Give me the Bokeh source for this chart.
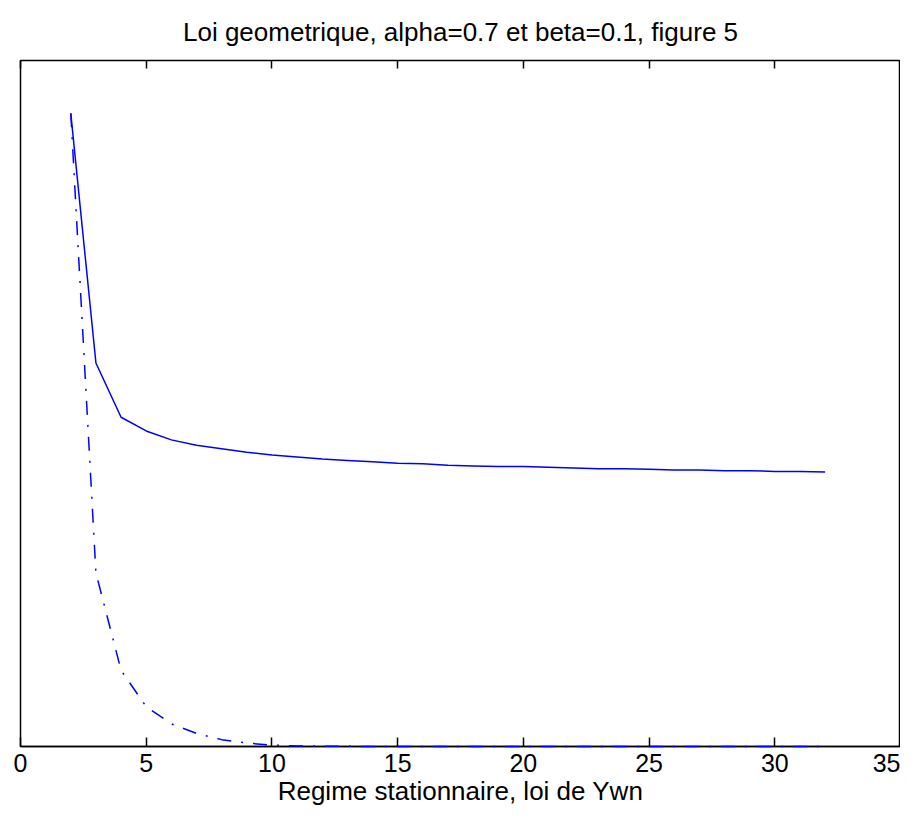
from bokeh.plotting import figure
from bokeh.models import Range1d, FixedTicker, LinearAxis, ColumnDataSource
from bokeh.embed import file_html
from bokeh.resources import INLINE

# ---- data (y axis has no labels, values normalised) ----
n_values = list(range(2, 33))
solid_y = [0.923, 0.559, 0.480, 0.460, 0.447, 0.439, 0.434, 0.429, 0.425, 0.422,
           0.419, 0.417, 0.415, 0.413, 0.412, 0.410, 0.409, 0.408, 0.408, 0.407,
           0.406, 0.405, 0.405, 0.404, 0.403, 0.403, 0.402, 0.402, 0.401, 0.401,
           0.400]
dashdot_y = [0.923, 0.253, 0.111, 0.058, 0.033, 0.019, 0.010, 0.005, 0.002, 0.0008,
             0.0004, 0.0002, 0.0001, 0.0, 0.0, 0.0, 0.0, 0.0, 0.0, 0.0,
             0.0, 0.0, 0.0, 0.0, 0.0, 0.0, 0.0, 0.0, 0.0, 0.0,
             0.0]
x_ticks = [0, 5, 10, 15, 20, 25, 30, 35]

title_text = "Loi geometrique, alpha=0.7 et beta=0.1, figure 5"
xlabel_text = "Regime stationnaire, loi de Ywn"

FONT = "Liberation Sans"

src = ColumnDataSource(dict(x=n_values, s=solid_y, d=dashdot_y))

p = figure(width=900, height=808, output_backend="svg", toolbar_location=None,
           x_range=Range1d(0, 35), y_range=Range1d(0, 1),
           title=title_text,
           min_border_left=20, min_border_right=0, min_border_top=60,
           min_border_bottom=60)

p.title.align = "center"
p.title.text_font = FONT
p.title.text_font_size = "26px"
p.title.text_font_style = "normal"
p.title.text_color = "black"
p.title.text_line_height = 0.7
p.title.standoff = 28

p.grid.visible = False
p.yaxis.visible = False
p.outline_line_color = "black"
p.outline_line_width = 1.5
p.background_fill_color = "white"
p.border_fill_color = "white"

xa = p.xaxis[0]
xa.ticker = FixedTicker(ticks=x_ticks)
xa.major_tick_in = 9
xa.major_tick_out = 0
xa.minor_tick_line_color = None
xa.major_tick_line_color = "black"
xa.major_tick_line_width = 1.5
xa.axis_line_color = "black"
xa.axis_line_width = 1.5
xa.major_label_text_font = FONT
xa.major_label_text_font_size = "25px"
xa.major_label_text_color = "black"
xa.major_label_standoff = 7
xa.axis_label = xlabel_text
xa.axis_label_text_font = FONT
xa.axis_label_text_font_size = "26px"
xa.axis_label_text_font_style = "normal"
xa.axis_label_text_color = "black"
xa.axis_label_standoff = 1

top = LinearAxis(ticker=FixedTicker(ticks=x_ticks))
top.major_tick_in = 8
top.major_tick_out = 0
top.minor_tick_line_color = None
top.major_tick_line_color = "black"
top.major_tick_line_width = 1.5
top.axis_line_color = None
top.major_label_text_font_size = "0px"
top.major_label_text_color = None
top.major_label_standoff = 0
p.add_layout(top, "above")

p.line("x", "s", source=src, line_color="#0000ff", line_width=1.5)
r = p.line("x", "d", source=src, line_color="#0000ff", line_width=1.5,
           line_dash="14 10 2 10")
r.level = "overlay"

open("out.html", "w").write(file_html(p, INLINE))
